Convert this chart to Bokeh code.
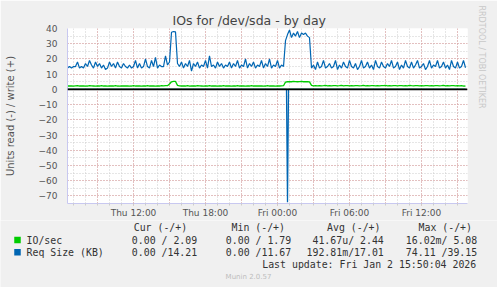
import pandas as pd
from bokeh.plotting import figure
from bokeh.layouts import column, row
from bokeh.models import Range1d, FixedTicker, Span, Title
from bokeh.core.properties import value
from bokeh.embed import file_html
from bokeh.resources import INLINE

# ---------------- data ----------------
start_time = "2026-01-01 06:30"
end_time = "2026-01-02 15:50"
sample_minutes = 10

# Req Size (KB), write (+), one value every 10 minutes from Thu 06:30
req_write = [
    14, 15, 14, 15, 15, 18, 14, 15, 14, 17, 15, 19, 16, 14, 18, 15, 17,
    14, 16, 13, 14, 18, 15, 17, 14, 18, 15, 14, 17, 15, 14, 16, 14,
    15, 19, 14, 17, 14, 15, 20, 15, 14, 19, 15, 21, 14, 16, 15, 15, 22,
    16, 18, 37.5, 38, 37.8, 17,
    15, 18, 14, 17, 15, 19, 12, 17, 15, 18, 14, 16, 15, 19, 14, 22, 15, 16, 14, 18, 15, 17,
    14, 16, 15, 18, 14, 17, 15, 19, 14, 16, 15, 20, 14, 17, 15, 18, 14, 16, 15, 19,
    14, 17, 15, 20, 14, 16, 15, 19, 14, 16,
    15,
    32, 36, 39, 34, 37, 35, 38, 34, 37, 36, 37, 35, 34,
    14,
    16, 13, 18, 14, 15, 19, 14, 15, 17, 14,
    15, 19, 13, 16, 14, 18, 15, 14, 19, 15,
    14, 17, 13, 15, 19, 14, 15, 18, 14, 16,
    13, 19, 15, 14, 18, 15, 14, 17, 15, 19,
    14, 15, 18, 13, 16, 14, 19, 15, 14, 18,
    14, 16, 19, 14, 15, 17, 13, 15, 19, 14,
    16, 15, 19, 14, 15, 18, 14, 16, 13, 19,
    15, 14, 18, 14, 15, 19, 14.2,
]

# IO/sec, write (+)
io_write = [
    2.2, 2.3, 2.2, 2.1, 2.3, 2.4, 2.2, 2.2, 2.3, 2.1,
    2.2, 2.4, 2.3, 2.2, 2.1, 2.3, 2.2, 2.4, 2.2, 2.3,
    2.1, 2.2, 2.3, 2.2, 2.4, 2.2, 2.1, 2.3, 2.2, 2.2,
    2.3, 2.1, 2.2, 2.4, 2.2, 2.3, 2.2, 2.1, 2.3, 2.2,
    2.4, 2.2, 2.3, 2.2, 2.1, 2.3, 2.2, 2.4, 2.3, 2.5,
    2.4, 3.5, 5.0, 5.3, 5.2, 2.6, 2.3,
    2.2, 2.3, 2.2, 2.4, 2.1, 2.3, 2.2, 2.2, 2.4, 2.3,
    2.2, 2.1, 2.3, 2.2, 2.4, 2.2, 2.3, 2.2, 2.1, 2.3,
    2.2, 2.4, 2.2, 2.3, 2.2, 2.1, 2.3, 2.2, 2.4, 2.2,
    2.3, 2.2, 2.1, 2.3, 2.2, 2.4, 2.2, 2.3, 2.2, 2.2,
    2.3, 2.1, 2.2, 2.4, 2.2, 2.3, 2.2, 2.1, 2.3, 2.2,
    2.3, 2.4,
    4.8, 5.0, 5.1, 5.0, 5.2, 5.1, 5.0, 5.1, 5.2, 5.0, 5.1, 5.0, 4.9,
    2.6, 2.3, 2.4, 2.3, 2.5, 2.3, 2.4, 2.6, 2.3, 2.4,
    2.3, 2.5, 2.4, 2.3, 2.4, 2.6, 2.3, 2.4, 2.5, 2.3,
    2.4, 2.3, 2.5, 2.4, 2.3, 2.4, 2.6, 2.3, 2.4, 2.3,
    2.5, 2.4, 2.3, 2.4, 2.3, 2.5, 2.4, 2.6, 2.3, 2.4,
    2.3, 2.5, 2.4, 2.3, 2.4, 2.5, 2.3, 2.4, 2.3, 2.6,
    2.4, 2.3, 2.4, 2.5, 2.3, 2.4, 2.3, 2.5, 2.4, 2.3,
    2.4, 2.3, 2.5, 2.4, 2.3, 2.4, 2.6, 2.3, 2.4, 2.3,
    2.5, 2.4, 2.3, 2.4, 2.3, 2.4, 2.2, 2.1,
]

# read (-) series
req_read_times = ["2026-01-01 06:30", "2026-01-02 00:45", "2026-01-02 00:50",
                  "2026-01-02 00:55", "2026-01-02 15:40"]
req_read = [0, 0, -74.11, 0, 0]
io_read_times = ["2026-01-01 06:30", "2026-01-02 15:40"]
io_read = [0, 0]

x_tick_times = ["2026-01-01 12:00", "2026-01-01 18:00", "2026-01-02 00:00",
                "2026-01-02 06:00", "2026-01-02 12:00"]
x_tick_labels = ["Thu 12:00", "Thu 18:00", "Fri 00:00", "Fri 06:00", "Fri 12:00"]
y_ticks = [-70, -60, -50, -40, -30, -20, -10, 0, 10, 20, 30, 40]

series_names = ["IO/sec", "Req Size (KB)"]
series_colors = ["#00cc00", "#0066b3"]
col_headers = ["Cur (-/+)", "Min (-/+)", "Avg (-/+)", "Max (-/+)"]
stats_io = ["0.00 / 2.09", "0.00 / 1.79", "41.67u/ 2.44", "16.02m/ 5.08"]
stats_req = ["0.00 /14.21", "0.00 /11.67", "192.81m/17.01", "74.11 /39.15"]
last_update = "Last update: Fri Jan  2 15:50:04 2026"
title_text = "IOs for /dev/sda - by day"
y_label = "Units read (-) / write (+)"
side_text = "RRDTOOL / TOBI OETIKER"
footer_text = "Munin 2.0.57"

# ---------------- layout ----------------
W = 497
H_MAIN, H_LEG = 220, 67
FL, FR, FT, FB = 67, 467, 28, 204
Y0, Y1 = -75, 40
BG = "#f0f0f0"
TXT = "#333333"


def ms(t):
    return pd.Timestamp(t).value / 1e6


x0 = ms(start_time)
x1 = ms(end_time)
times = [pd.Timestamp(start_time) + pd.Timedelta(minutes=sample_minutes * i)
         for i in range(len(req_write))]

p = figure(width=W, height=H_MAIN, x_axis_type="datetime", output_backend="svg",
           toolbar_location=None, min_border_left=FL, min_border_right=W - FR,
           min_border_top=FT, min_border_bottom=H_MAIN - FB,
           x_range=Range1d(x0, x1), y_range=Range1d(Y0, Y1))
p.border_fill_color = BG
p.background_fill_color = "white"
p.outline_line_color = None

# title
p.title.text = title_text
p.title.text_font = "DejaVu Sans"
p.title.text_font_size = "12.5px"
p.title.text_font_style = "normal"
p.title.text_color = "#444444"
p.title.align = "left"
p.title.offset = 105
p.title.standoff = 2

# side text
p.add_layout(Title(text=side_text, text_font="DejaVu Sans", text_font_size="8px",
                   text_font_style="normal", text_color="#c8c8c8", align="left",
                   offset=-23, standoff=19), "right")

axis_col = "#c8c8f0"
red_grid = "#e09a9a"
gray_grid = "#cccccc"

hour_ms = [ms(t) for t in pd.date_range("2026-01-01 07:00", "2026-01-02 15:00", freq="1h")]
three_ms = [ms(t) for t in pd.date_range("2026-01-01 09:00", "2026-01-02 15:00", freq="3h")]
xt = [ms(t) for t in x_tick_times]

p.xaxis.ticker = FixedTicker(ticks=xt, minor_ticks=hour_ms)
p.xaxis.major_label_overrides = {int(v): lab for v, lab in zip(xt, x_tick_labels)}
p.xgrid.ticker = FixedTicker(ticks=three_ms, minor_ticks=hour_ms)
minor_y = list(range(-75, 41, 5))
p.yaxis.ticker = FixedTicker(ticks=y_ticks, minor_ticks=minor_y)
p.ygrid.ticker = FixedTicker(ticks=y_ticks, minor_ticks=minor_y)

for g in (p.xgrid[0], p.ygrid[0]):
    g.grid_line_color = red_grid
    g.grid_line_dash = "1 2"
    g.grid_line_width = 1
    g.minor_grid_line_color = gray_grid
    g.minor_grid_line_dash = "1 2"
    g.minor_grid_line_width = 1

for ax in (p.xaxis[0], p.yaxis[0]):
    ax.axis_line_color = axis_col
    ax.major_label_text_font = "DejaVu Sans"
    ax.major_label_text_font_size = "9px"
    ax.major_label_text_color = "#555555"
    ax.minor_tick_line_color = None
    ax.major_tick_in = 0
    ax.minor_tick_in = 0

p.xaxis.major_tick_out = 2
p.xaxis.major_tick_line_color = red_grid
p.xaxis.minor_tick_out = 2
p.xaxis.minor_tick_line_color = gray_grid
p.xaxis.major_label_standoff = 2
p.yaxis.major_tick_out = 0
p.yaxis.major_tick_line_color = None
p.yaxis.major_label_standoff = 6
p.yaxis.axis_label = y_label
p.yaxis.axis_label_text_font = "DejaVu Sans"
p.yaxis.axis_label_text_font_size = "10px"
p.yaxis.axis_label_text_font_style = "normal"
p.yaxis.axis_label_text_color = "#555555"
p.yaxis.axis_label_standoff = 20

# ---------------- series ----------------
p.line([pd.Timestamp(t) for t in io_read_times], io_read, color=series_colors[0], line_width=1.3)
p.line(times, io_write, color=series_colors[0], line_width=1.3)
p.line([pd.Timestamp(t) for t in req_read_times], req_read, color=series_colors[1], line_width=1.3)
p.line(times, req_write, color=series_colors[1], line_width=1.2)

p.add_layout(Span(location=0, dimension="width", line_color="black", line_width=1.8))

# ---------------- legend panel (pixel coordinates, y downward) ----------------
leg = figure(width=W, height=H_LEG, output_backend="svg", toolbar_location=None,
             x_axis_location=None, y_axis_location=None,
             min_border_left=0, min_border_right=0,
             min_border_top=0, min_border_bottom=0,
             x_range=Range1d(0, W), y_range=Range1d(H_MAIN + H_LEG, H_MAIN))
leg.border_fill_color = BG
leg.background_fill_color = BG
leg.outline_line_color = None
leg.grid.visible = False

mono = value("DejaVu Sans Mono")
head_right = [186.7, 284.5, 380, 471.5]
val_right = [196.7, 290.7, 383.3, 476.7]

rx, ry, rt = [], [], []
for hx, h in zip(head_right, col_headers):
    rx.append(hx); ry.append(227); rt.append(h)
lx, ly, lt = [], [], []
sq_x, sq_y, sq_c = [], [], []
for r, (name, color, stats) in enumerate(zip(series_names, series_colors, [stats_io, stats_req])):
    yy = 239.5 + 12.2 * r
    sq_x.append(17); sq_y.append(yy); sq_c.append(color)
    lx.append(26); ly.append(yy); lt.append(name)
    for vx, s in zip(val_right, stats):
        rx.append(vx); ry.append(yy); rt.append(s)
rx.append(481.7); ry.append(263.5); rt.append(last_update)

leg.rect(x=sq_x, y=sq_y, width=6.5, height=6.5, fill_color=sq_c, line_color=None)
leg.text(x=lx, y=ly, text=lt, text_font=mono, text_font_size="9.9px",
         text_color=TXT, text_align="left", text_baseline="middle")
leg.text(x=rx, y=ry, text=rt, text_font=mono, text_font_size="9.9px",
         text_color=TXT, text_align="right", text_baseline="middle")
leg.text(x=[248], y=[276], text=[footer_text], text_font=value("DejaVu Sans"),
         text_font_size="7px", text_color="#bdbdbd", text_align="center",
         text_baseline="middle")

layout = column(p, row(leg, spacing=0), spacing=0)
open("out.html", "w").write(file_html(layout, INLINE))
